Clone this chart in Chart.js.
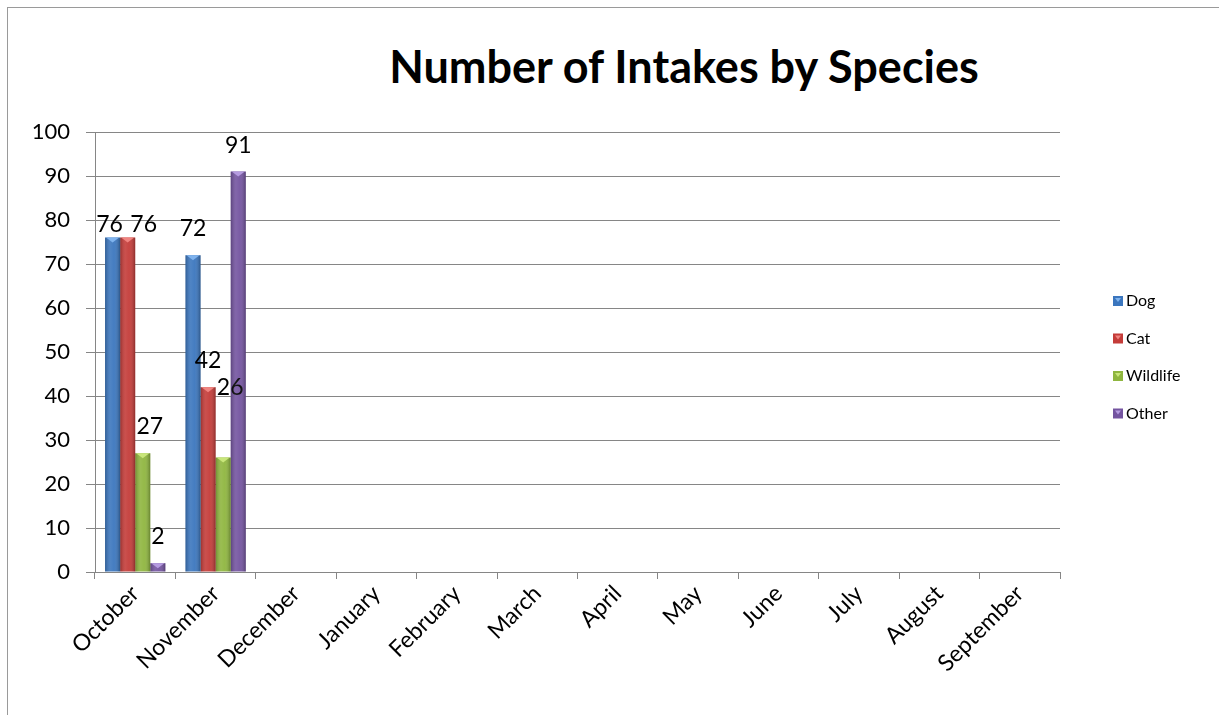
<!DOCTYPE html>
<html>
<head>
<meta charset="utf-8">
<title>Number of Intakes by Species</title>
<script src="https://cdn.jsdelivr.net/npm/chart.js@4/dist/chart.umd.min.js"></script>
<style>
	html, body { margin: 0; padding: 0; background: #fff; }
	#wrap { position: relative; width: 1219px; height: 715px; overflow: hidden; }
	#frame { position: absolute; left: 7px; top: 7px; width: 1240px; height: 740px; border: 1px solid #9a9a9a; box-sizing: border-box; }
	#title { position: absolute; left: 334px; width: 700px; top: 38px; margin: 0; text-align: center;
		font-family: Lato, "Open Sans", sans-serif; font-weight: bold; font-size: 45px; line-height: 56px; color: #000; }
	#intakeChart { position: absolute; left: 0; top: 0; }
</style>
</head>
<body>
<div id="wrap">
	<div id="frame"></div>
	<h1 id="title">Number of Intakes by Species</h1>
	<canvas id="intakeChart" width="1219" height="715"></canvas>
</div>
<script>
var months = ["October", "November", "December", "January", "February", "March", "April", "May", "June", "July", "August", "September"];
var species = ["Dog", "Cat", "Wildlife", "Other"];
var dogCounts = [76, 72];
var catCounts = [76, 42];
var wildlifeCounts = [27, 26];
var otherCounts = [2, 91];
var yTicks = [0, 10, 20, 30, 40, 50, 60, 70, 80, 90, 100];

var barColor = ["#3b76be", "#c43c39", "#8fb63f", "#7454a0"];
var tipColor = ["#7fb3ee", "#f08480", "#c8e67a", "#b59be0"];
// label nudges (dx, dy) where labels crowd each other
var labelNudge = {"0-0": [-3, 13], "1-0": [16, 13], "2-0": [7, 0], "2-1": [7, -44]};

var fontFamily = "Lato, 'Open Sans', sans-serif";

// shading + value labels on top of the bars
var barDecor = {
	id: "barDecor",
	afterDatasetsDraw: function(chart){
		var ctx = chart.ctx;
		chart.data.datasets.forEach(function(ds, di){
			var meta = chart.getDatasetMeta(di);
			meta.data.forEach(function(bar, i){
				if (ds.data[i] == null) return;
				var left = bar.x - bar.width/2, right = bar.x + bar.width/2;
				var top = bar.y, bottom = bar.base;
				var g = ctx.createLinearGradient(left, 0, right, 0);
				g.addColorStop(0, "rgba(0,0,0,0.22)");
				g.addColorStop(0.35, "rgba(255,255,255,0.10)");
				g.addColorStop(0.6, "rgba(255,255,255,0.05)");
				g.addColorStop(1, "rgba(0,0,0,0.28)");
				ctx.save();
				ctx.fillStyle = g;
				ctx.fillRect(left, top, right-left, bottom-top);
				// little bevel on the top face
				ctx.fillStyle = tipColor[di];
				ctx.beginPath();
				ctx.moveTo(left+1, top);
				ctx.lineTo(right-1, top);
				ctx.lineTo(bar.x, top+Math.min(5, bottom-top));
				ctx.closePath();
				ctx.fill();
				ctx.restore();

				var nudge = labelNudge[di+"-"+i] || [0, 0];
				ctx.save();
				ctx.font = "23px " + fontFamily;
				ctx.fillStyle = "#000";
				ctx.textAlign = "center";
				ctx.textBaseline = "alphabetic";
				ctx.fillText(String(ds.data[i]), bar.x + nudge[0], top - 19 + nudge[1]);
				ctx.restore();
			});
		});
	},
	afterDraw: function(chart){
		// legend on the right
		var ctx = chart.ctx;
		var x = 1113, y = 301, step = 37.5;
		chart.data.datasets.forEach(function(ds, di){
			var yy = y + di*step;
			ctx.save();
			ctx.fillStyle = barColor[di];
			ctx.fillRect(x, yy-5, 10, 10);
			ctx.fillStyle = tipColor[di];
			ctx.beginPath();
			ctx.moveTo(x+2, yy-3); ctx.lineTo(x+8, yy-3); ctx.lineTo(x+5, yy+1);
			ctx.closePath(); ctx.fill();
			ctx.font = "16px " + fontFamily;
			ctx.fillStyle = "#000";
			ctx.textBaseline = "middle";
			ctx.fillText(ds.label, x+13, yy);
			ctx.restore();
		});
	}
};

new Chart(document.getElementById("intakeChart"), {
	type: "bar",
	data: {
		labels: months,
		datasets: [
			{label: species[0], data: dogCounts, backgroundColor: barColor[0]},
			{label: species[1], data: catCounts, backgroundColor: barColor[1]},
			{label: species[2], data: wildlifeCounts, backgroundColor: barColor[2]},
			{label: species[3], data: otherCounts, backgroundColor: barColor[3]}
		]
	},
	options: {
		responsive: false,
		animation: false,
		events: [],
		layout: {padding: {left: 0, right: 159, top: 132, bottom: 0}},
		datasets: {bar: {categoryPercentage: 0.75, barPercentage: 1.0, borderWidth: 0}},
		plugins: {
			legend: {display: false},
			title: {display: false},
			tooltip: {enabled: false}
		},
		scales: {
			x: {
				grid: {display: true, drawOnChartArea: false, drawTicks: true, tickLength: 7, color: "#868686", offset: true},
				border: {display: true, color: "#868686"},
				ticks: {
					minRotation: 45, maxRotation: 45, autoSkip: false, padding: 1,
					color: "#000", font: {family: fontFamily, size: 23}
				},
				afterFit: function(scale){ scale.height = 143; }
			},
			y: {
				min: 0, max: 100,
				afterBuildTicks: function(scale){ scale.ticks = yTicks.map(function(v){ return {value: v}; }); },
				grid: {color: "#868686", tickLength: 9, drawTicks: true},
				border: {display: true, color: "#868686"},
				ticks: {padding: 16, color: "#000", font: {family: fontFamily, size: 22}},
				afterFit: function(scale){ scale.width = 95; }
			}
		}
	},
	plugins: [barDecor]
});
</script>
</body>
</html>
